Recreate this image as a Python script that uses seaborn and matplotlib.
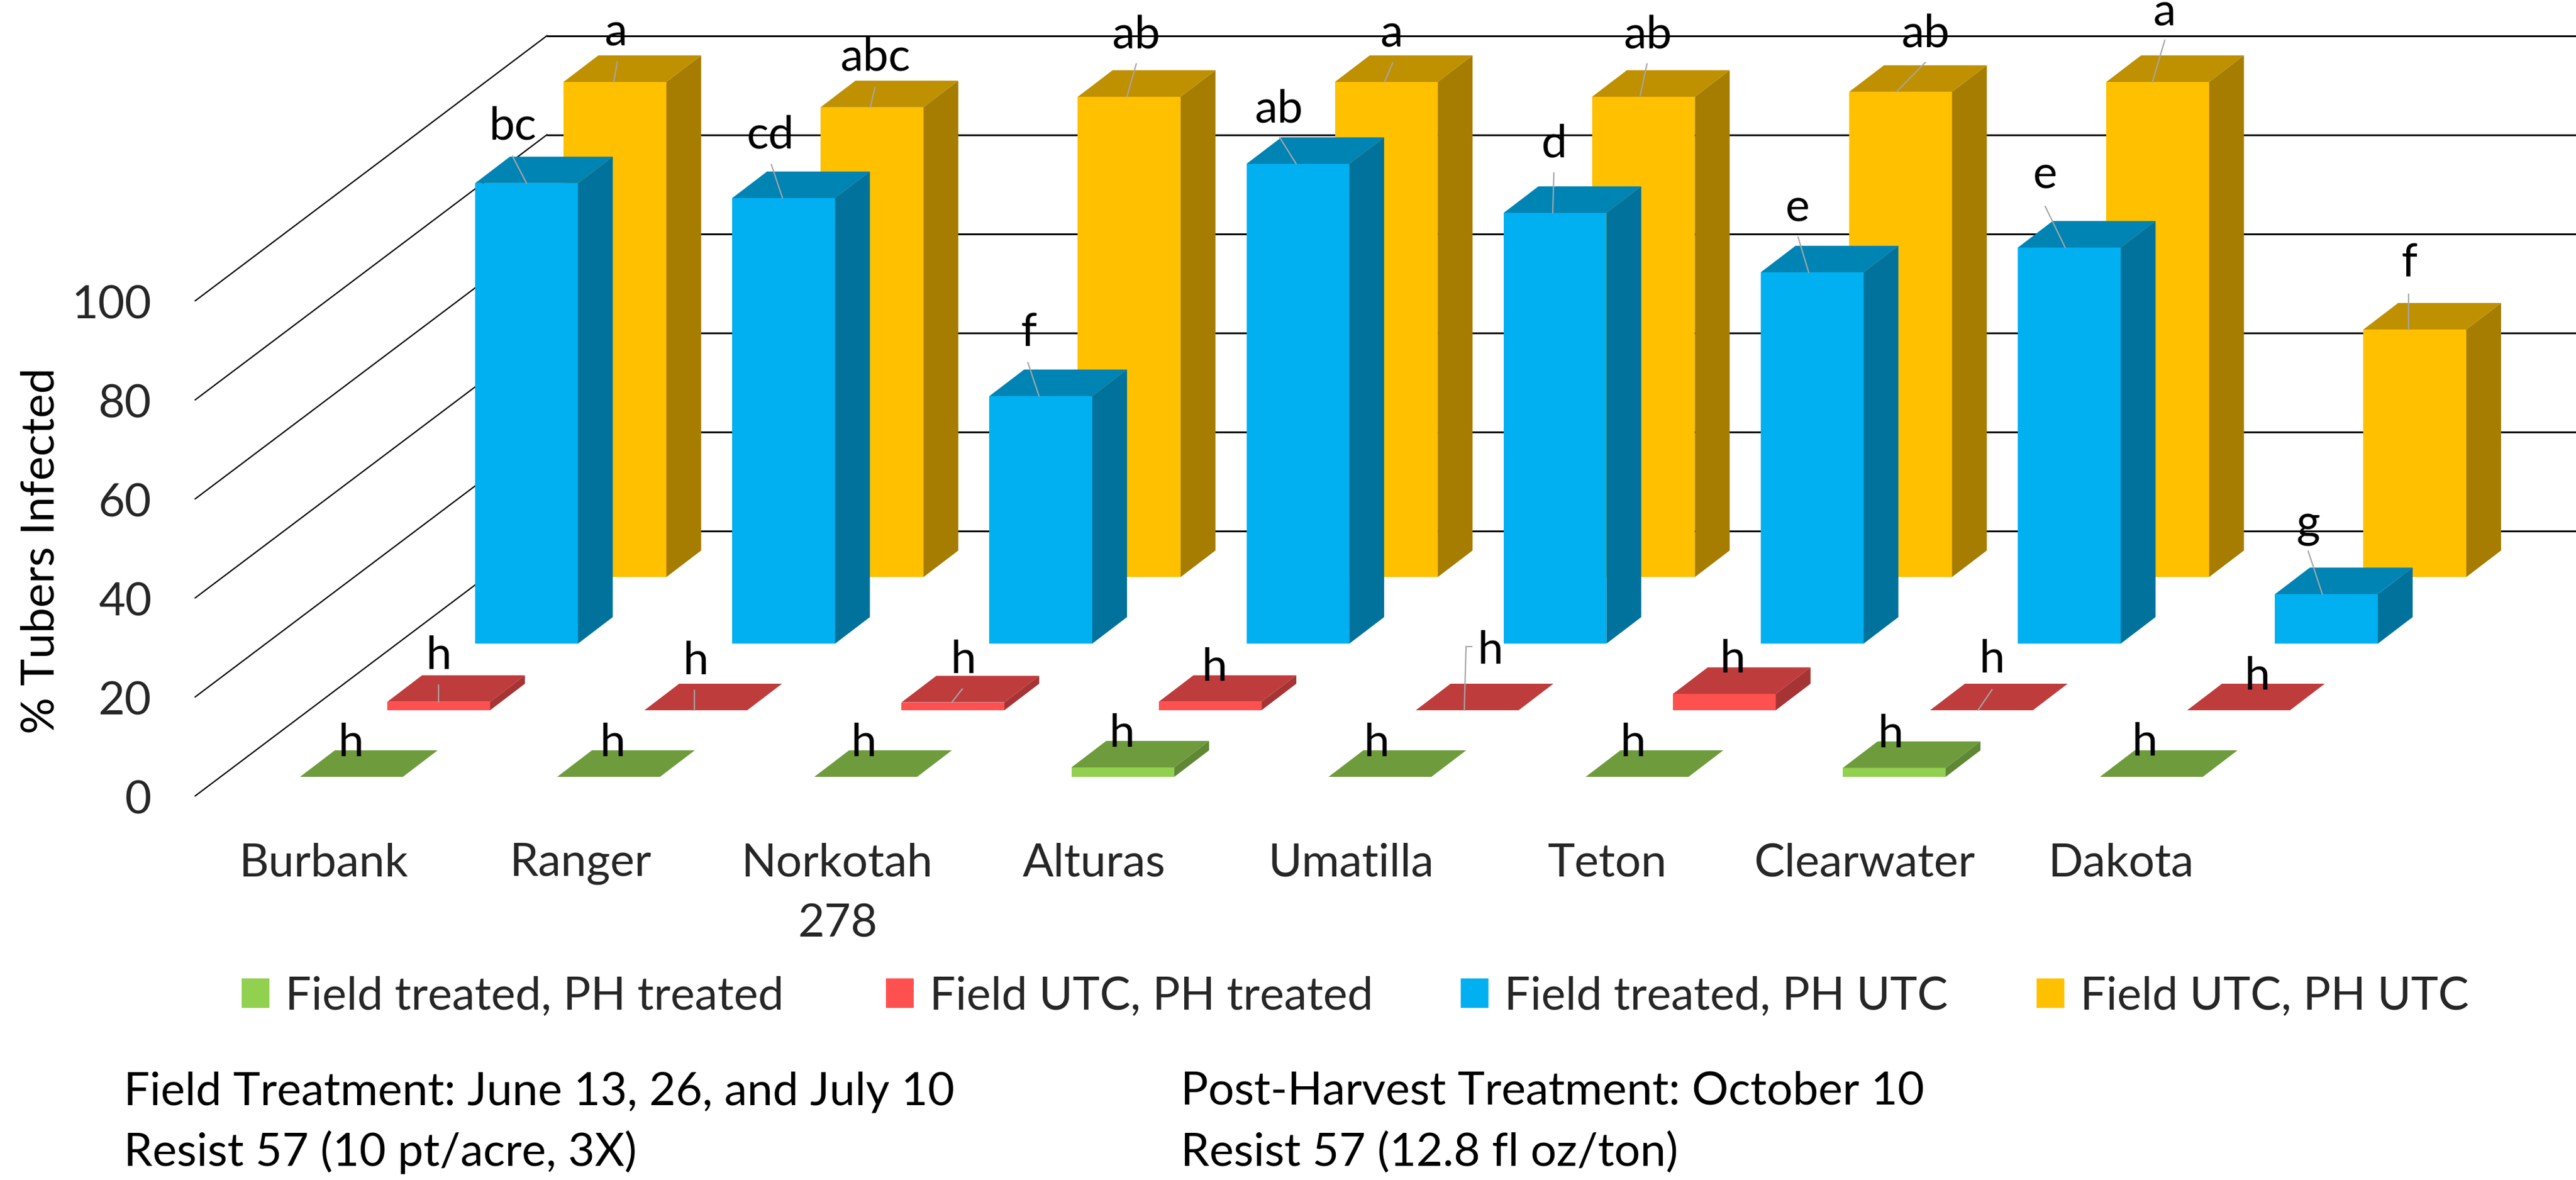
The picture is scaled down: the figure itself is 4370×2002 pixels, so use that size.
import numpy as np
import pandas as pd
import matplotlib
matplotlib.use('Agg')
import matplotlib.pyplot as plt
from matplotlib.colors import to_rgb
from matplotlib.patches import Patch
import seaborn as sns

# Values
varieties = ['Burbank', 'Ranger', 'Norkotah\n278', 'Alturas', 'Umatilla', 'Teton', 'Clearwater', 'Dakota']
treated_treated = [0, 0, 0, 1.9, 0, 0, 1.8, 0]
utc_treated = [1.7, 0, 1.6, 1.7, 0, 3.3, 0, 0]
treated_utc = [93, 90, 50, 96.9, 87, 75, 80, 10]
utc_utc = [100, 94.9, 97, 100, 97, 98, 100, 50]

letters_tt = ['h', 'h', 'h', 'h', 'h', 'h', 'h', 'h']
letters_ut = ['h', 'h', 'h', 'h', 'h', 'h', 'h', 'h']
letters_tu = ['bc', 'cd', 'f', 'ab', 'd', 'e', 'e', 'g']
letters_uu = ['a', 'abc', 'ab', 'a', 'ab', 'ab', 'a', 'f']

yticks = [0, 20, 40, 60, 80, 100]

# Figure layout in pixels
W, H = 4370, 2002
DPI = 200
SPACING = 436.2      # px between categories
PX_PCT = 8.4         # px per percent
BAR_W = 174.5
DEPTH_X, DEPTH_Y = 59, 45
FS = 28

# Hand placed data labels, px from the middle of the bar's front top edge
offs_tt = [(-1, 35), (7, 35), (-3, 35), (-2, 35), (-6, 35), (-7, 35), (-6, 35), (-11, 36)]
offs_ut = [(0, 56), (0, 61), (18, 50), (7, 36), (39, 79), (14, 36), (18, 64), (32, 35)]
offs_tu = [(-23, 74), (-22, 84), (-21, 85), (-32, 71), (-2, 95), (-25, 86), (-41, 100), (-31, 97)]
offs_uu = [(2, 61), (6, 62), (12, 83), (9, 60), (7, 83), (42, 76), (11, 96), (-10, 90)]

# Leader lines in the same px offsets
lead_tt = [None] * 8
lead_ut = [[(0, 0), (0, 29)], [(-2, 0), (-2, 34)], [(-2, 0), (16, 23)], None,
           [(-5, 0), (-2, 108), (8, 108)], None, [(-6, 0), (18, 35)], None]
lead_tu = [[(0, 0), (-24, 46)], [(-2, 0), (-21, 57)], [(-3, 0), (-22, 57)], [(-3, 0), (-31, 45)],
           [(-4, 0), (-2, 68)], [(-6, 0), (-24, 60)], [(-7, 0), (-41, 70)], [(-7, 0), (-31, 73)]]
lead_uu = [[(-2, 0), (4, 34)], [(-3, 0), (5, 34)], [(-4, 0), (12, 56)], [(-3, 0), (11, 33)],
           [(-6, 0), (6, 56)], [(-7, 0), (42, 50)], [(-9, 0), (12, 71)], [(-11, 0), (-11, 60)]]

sns.set_theme(style='white')
plt.rcParams['font.family'] = ['Lato', 'DejaVu Sans']

fig = plt.figure(figsize=(W / DPI, H / DPI), dpi=DPI)
fig.patch.set_facecolor('white')


def make_ax(left, bottom, width, zorder):
    ax = fig.add_axes([left / W, 1 - bottom / H, width / W, 100 * PX_PCT / H])
    ax.set_zorder(zorder)
    ax.patch.set_alpha(0)
    return ax


# Back wall with gridlines, and the side wall lines running to the front
back = make_ax(928, 900.5, W - 928, 1)
back.set_xlim(0, 1)
back.set_ylim(0, 100)
back.axis('off')
for v in yticks:
    back.plot([0, 1], [v, v], color='black', lw=1.1, clip_on=False)
    back.plot([0, -597 / (W - 928)], [v, v - 450 / PX_PCT], color='black', lw=0.8, clip_on=False)

# Front axes only holds the tick labels
front = make_ax(332, 1352, 8 * 435.5, 0)
front.set_xlim(-0.5, 7.5)
front.set_ylim(0, 100)
front.set_xticks(range(8))
front.set_xticklabels(varieties, fontsize=FS, linespacing=1.55)
front.set_yticks(yticks)
front.set_yticklabels(yticks, fontsize=FS)
front.tick_params(axis='x', length=0, pad=28)
front.tick_params(axis='y', length=0, pad=27)
sns.despine(ax=front, left=True, bottom=True)

# One axes per depth row, back to front
rows = [
    ('Field UTC, PH UTC', utc_utc, '#FFC000', 956, 979, letters_uu, offs_uu, lead_uu),
    ('Field treated, PH UTC', treated_utc, '#00B0F0', 806, 1092, letters_tu, offs_tu, lead_tu),
    ('Field UTC, PH treated', utc_treated, '#FF5050', 657, 1205, letters_ut, offs_ut, lead_ut),
    ('Field treated, PH treated', treated_treated, '#92D050', 509, 1318, letters_tt, offs_tt, lead_tt),
]

handles = {}
for n, (name, values, color, x0, y0, letters, offs, leads) in enumerate(rows):
    ax = make_ax(x0 + BAR_W / 2 - SPACING / 2, y0, 8 * SPACING, 2 + n)
    df = pd.DataFrame({'variety': varieties, 'pct': values})
    sns.barplot(data=df, x='variety', y='pct', color=color, saturation=1,
                width=BAR_W / SPACING, ax=ax, linewidth=0)
    ax.set_xlim(-0.5, 7.5)
    ax.set_ylim(0, 100)
    ax.axis('off')

    dx = DEPTH_X / SPACING
    dy = DEPTH_Y / PX_PCT
    top_c = np.array(to_rgb(color)) * 0.75
    side_c = np.array(to_rgb(color)) * 0.65

    for p in ax.patches:
        x, w, h = p.get_x(), p.get_width(), p.get_height()
        ax.fill([x + w, x + w + dx, x + w + dx, x + w], [0, dy, h + dy, h],
                color=side_c, lw=0, clip_on=False)
        ax.fill([x, x + w, x + w + dx, x + dx], [h, h, h + dy, h + dy],
                color=top_c, lw=0, clip_on=False)

    for i, v in enumerate(values):
        if leads[i] is not None:
            xs = [i + a / SPACING for a, b in leads[i]]
            ys = [v + b / PX_PCT for a, b in leads[i]]
            ax.plot(xs, ys, color='#A6A6A6', lw=0.8, clip_on=False, zorder=5)
        ax.text(i + offs[i][0] / SPACING, v + offs[i][1] / PX_PCT, letters[i], fontsize=FS,
                ha='center', va='baseline', color='black', clip_on=False, zorder=6)
    handles[name] = Patch(facecolor=color, edgecolor='none', label=name)

# Axis title
fig.text(70 / W, 1 - 934 / H, '% Tubers Infected', rotation=90, fontsize=FS,
         ha='center', va='center', color='black')

# Legend, one per entry so each swatch sits where the reference has it
order = ['Field treated, PH treated', 'Field UTC, PH treated', 'Field treated, PH UTC', 'Field UTC, PH UTC']
legend_x = [410, 1503, 2478, 3455]
em = FS * DPI / 72
for name, lx in zip(order, legend_x):
    fig.legend(handles=[handles[name]], frameon=False, fontsize=FS,
               loc='center left', bbox_to_anchor=(lx / W, 1 - 1691 / H), borderpad=0, borderaxespad=0,
               handlelength=47 / em, handleheight=48 / em, handletextpad=27 / em)

# Treatment notes
fig.text(210 / W, 1 - 1874 / H, 'Field Treatment: June 13, 26, and July 10', fontsize=FS, va='baseline', color='black')
fig.text(210 / W, 1 - 1978 / H, 'Resist 57 (10 pt/acre, 3X)', fontsize=FS, va='baseline', color='black')
fig.text(2003 / W, 1 - 1874 / H, 'Post-Harvest Treatment: October 10', fontsize=FS, va='baseline', color='black')
fig.text(2003 / W, 1 - 1978 / H, 'Resist 57 (12.8 fl oz/ton)', fontsize=FS, va='baseline', color='black')

fig.savefig('out.png', dpi=DPI)
